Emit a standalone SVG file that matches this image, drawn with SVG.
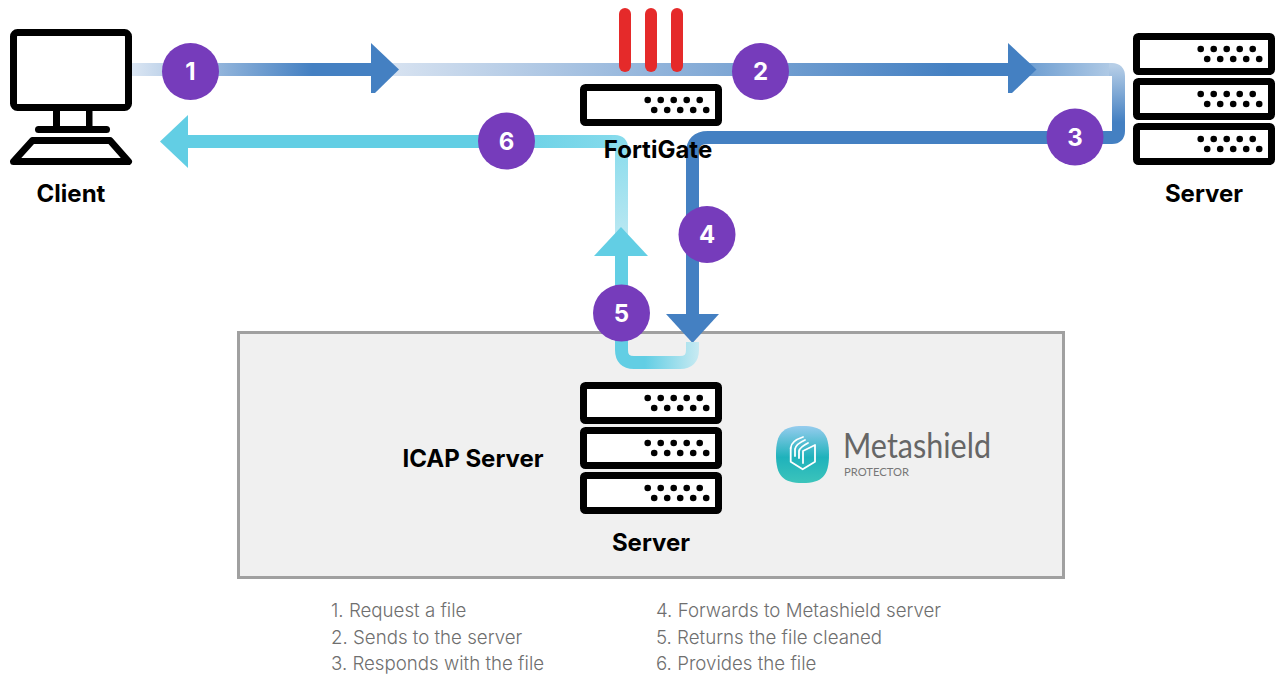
<svg xmlns="http://www.w3.org/2000/svg" width="1275" height="675" viewBox="0 0 1275 675">
<style>
text{font-family:Inter,"Liberation Sans",Arial,sans-serif}
.lbl{font-size:24px;font-weight:700;fill:#000;text-anchor:middle}
.num{font-size:24px;font-weight:700;fill:#fff;text-anchor:middle}
.badge{fill:#763cbb}
.list{font-size:18.700px;font-weight:300;fill:#6f6f6f}
.unit{fill:#fff;stroke:#000;stroke-width:7;stroke-linejoin:round}
.line{fill:none;stroke-width:13}
.blue{fill:#4480c2}
.cyan{fill:#62cee4}
.red{fill:#e52a2a}
.logo{font-family:Lato,"Open Sans","Liberation Sans",sans-serif}
</style>
<defs>
<linearGradient id="g1" gradientUnits="userSpaceOnUse" x1="132" y1="0" x2="312" y2="0"><stop offset="0" stop-color="#dbe6f3"/><stop offset="1" stop-color="#4480c2"/></linearGradient>
<linearGradient id="g2" gradientUnits="userSpaceOnUse" x1="399" y1="0" x2="950" y2="0"><stop offset="0" stop-color="#d5e1f0"/><stop offset="1" stop-color="#4480c2"/></linearGradient>
<linearGradient id="g3a" gradientUnits="userSpaceOnUse" x1="1030" y1="0" x2="1118" y2="0"><stop offset="0" stop-color="#6f9fd2"/><stop offset="1" stop-color="#b6cee7"/></linearGradient>
<linearGradient id="g3b" gradientUnits="userSpaceOnUse" x1="0" y1="66" x2="0" y2="122"><stop offset="0" stop-color="#b6cee7"/><stop offset="1" stop-color="#4480c2"/></linearGradient>
<linearGradient id="g5a" gradientUnits="userSpaceOnUse" x1="699" y1="0" x2="645" y2="0"><stop offset="0" stop-color="#c8eaf2"/><stop offset="1" stop-color="#62cee4"/></linearGradient>
<linearGradient id="g6a" gradientUnits="userSpaceOnUse" x1="0" y1="240" x2="0" y2="135"><stop offset="0" stop-color="#bbe8f2"/><stop offset="1" stop-color="#86dbec"/></linearGradient>
<linearGradient id="g6b" gradientUnits="userSpaceOnUse" x1="622" y1="0" x2="480" y2="0"><stop offset="0" stop-color="#86dbec"/><stop offset="1" stop-color="#62cee4"/></linearGradient>
<linearGradient id="gicon" x1="0" y1="0" x2="0" y2="1"><stop offset="0" stop-color="#96ccee"/><stop offset="0.55" stop-color="#1fb2bb"/><stop offset="1" stop-color="#3cc4bb"/></linearGradient>
<g id="rack">
<rect class="unit" x="3.500" y="3.500" width="135" height="35" rx="2"/>
<g fill="#000">
<circle cx="67.700" cy="16" r="3.300"/><circle cx="80.700" cy="16" r="3.300"/><circle cx="93.700" cy="16" r="3.300"/><circle cx="106.700" cy="16" r="3.300"/><circle cx="119.700" cy="16" r="3.300"/>
<circle cx="74.200" cy="26" r="3.300"/><circle cx="87.200" cy="26" r="3.300"/><circle cx="100.200" cy="26" r="3.300"/><circle cx="113.200" cy="26" r="3.300"/><circle cx="126.200" cy="26" r="3.300"/>
</g>
</g>
</defs>

<g id="icap-box"><rect x="238.500" y="332.500" width="825" height="245" fill="#f0f0f0" stroke="#a0a0a0" stroke-width="3"/></g>

<g id="connectors">
<path class="line" stroke="url(#g1)" d="M132 69.500H372"/>
<path class="line" stroke="url(#g2)" d="M380 69.500H1009"/>
<polygon class="blue" points="371,43 399,69.500 375,93 371,93"/>
<path class="line" stroke="url(#g3a)" d="M1020 69.500H1112"/>
<polygon class="blue" points="1008,43 1036.500,69.500 1012,93 1008,93"/>
<path class="line" stroke="url(#g3b)" d="M1109 69.500H1112Q1118.500 69.500 1118.500 76V131Q1118.500 137.500 1112 137.500H1100"/>
<path class="line" stroke="#4480c2" d="M1105 137.500H708Q692.500 137.500 692.500 153V316"/>
<polygon class="blue" points="666,314 719,314 692.500,343"/>
<path class="line" stroke="url(#g5a)" d="M692.500 342V350Q692.500 362.500 680 362.500H634Q621.500 362.500 621.500 350V254"/>
<path class="line" stroke="url(#g6a)" d="M621.500 240V148Q621.500 141.500 615 141.500H600"/>
<polygon class="cyan" points="594,256 648,256 621,227"/>
<path class="line" stroke="url(#g6b)" d="M612 141.500H186"/>
<polygon class="cyan" points="188,115 188,168 160,141.500"/>
</g>

<g id="client">
<rect x="13.500" y="32.500" width="115" height="75" rx="4" fill="#fff" stroke="#000" stroke-width="7"/>
<rect x="53" y="110" width="7" height="17"/><rect x="86" y="110" width="6.500" height="17"/>
<rect x="35" y="126" width="75" height="7" rx="3.500"/>
<path d="M32.500 140.500H110L128.500 161.500H13.500Z" fill="#fff" stroke="#000" stroke-width="7" stroke-linejoin="round"/>
<text class="lbl" x="71" y="202">Client</text>
</g>

<g id="fortigate">
<rect class="red" x="619" y="8" width="12" height="64" rx="6"/>
<rect class="red" x="645" y="8" width="12" height="64" rx="6"/>
<rect class="red" x="671" y="8" width="12" height="64" rx="6"/>
<use href="#rack" x="580" y="84"/>
<text class="lbl" x="658" y="158">FortiGate</text>
</g>

<g id="server-top">
<use href="#rack" x="1133" y="33"/>
<use href="#rack" x="1133" y="78"/>
<use href="#rack" x="1133" y="123"/>
<text class="lbl" x="1204" y="202">Server</text>
</g>

<g id="icap-server">
<text class="lbl" x="473" y="467">ICAP Server</text>
<use href="#rack" x="580" y="382"/>
<use href="#rack" x="580" y="427"/>
<use href="#rack" x="580" y="472"/>
<text class="lbl" x="651" y="551">Server</text>
</g>

<g id="metashield">
<path d="M802.500 426C822 426 829 433 829 454.500C829 476 822 483 802.500 483C783 483 776 476 776 454.500C776 433 783 426 802.500 426Z" fill="url(#gicon)"/>
<g fill="none" stroke="#fff" stroke-width="1.800" stroke-linejoin="round" stroke-linecap="round">
<path d="M790.700 448V461.700L802.700 469.300L815 461.700V445L803 451V463"/>
<path d="M790.700 448Q791 441 803 437"/>
<path d="M795 456V449Q796 444 805 440"/>
<path d="M799 458V451Q800 447 808 443"/>
</g>
<text class="logo" x="843" y="458" font-size="34.500" fill="#666" textLength="148" lengthAdjust="spacingAndGlyphs">Metashield</text>
<text class="logo" x="844" y="476" font-size="11.500" fill="#777" textLength="65" lengthAdjust="spacingAndGlyphs">PROTECTOR</text>
</g>

<g id="badge-1"><circle class="badge" cx="190.500" cy="71.500" r="28.500"/><text class="num" x="190.500" y="80">1</text></g>
<g id="badge-2"><circle class="badge" cx="760.500" cy="71.500" r="28.500"/><text class="num" x="760.500" y="80">2</text></g>
<g id="badge-3"><circle class="badge" cx="1075" cy="137" r="28.500"/><text class="num" x="1075" y="146">3</text></g>
<g id="badge-4"><circle class="badge" cx="707" cy="234.500" r="28.500"/><text class="num" x="707" y="243">4</text></g>
<g id="badge-5"><circle class="badge" cx="621.500" cy="313" r="28.500"/><text class="num" x="621.500" y="322">5</text></g>
<g id="badge-6"><circle class="badge" cx="506.500" cy="141" r="28.500"/><text class="num" x="506.500" y="150">6</text></g>

<g id="legend">
<text class="list" x="331" y="617">1. Request a file</text>
<text class="list" x="331" y="644">2. Sends to the server</text>
<text class="list" x="331" y="670">3. Responds with the file</text>
<text class="list" x="656" y="617">4. Forwards to Metashield server</text>
<text class="list" x="656" y="644">5. Returns the file cleaned</text>
<text class="list" x="656" y="670">6. Provides the file</text>
</g>
</svg>
